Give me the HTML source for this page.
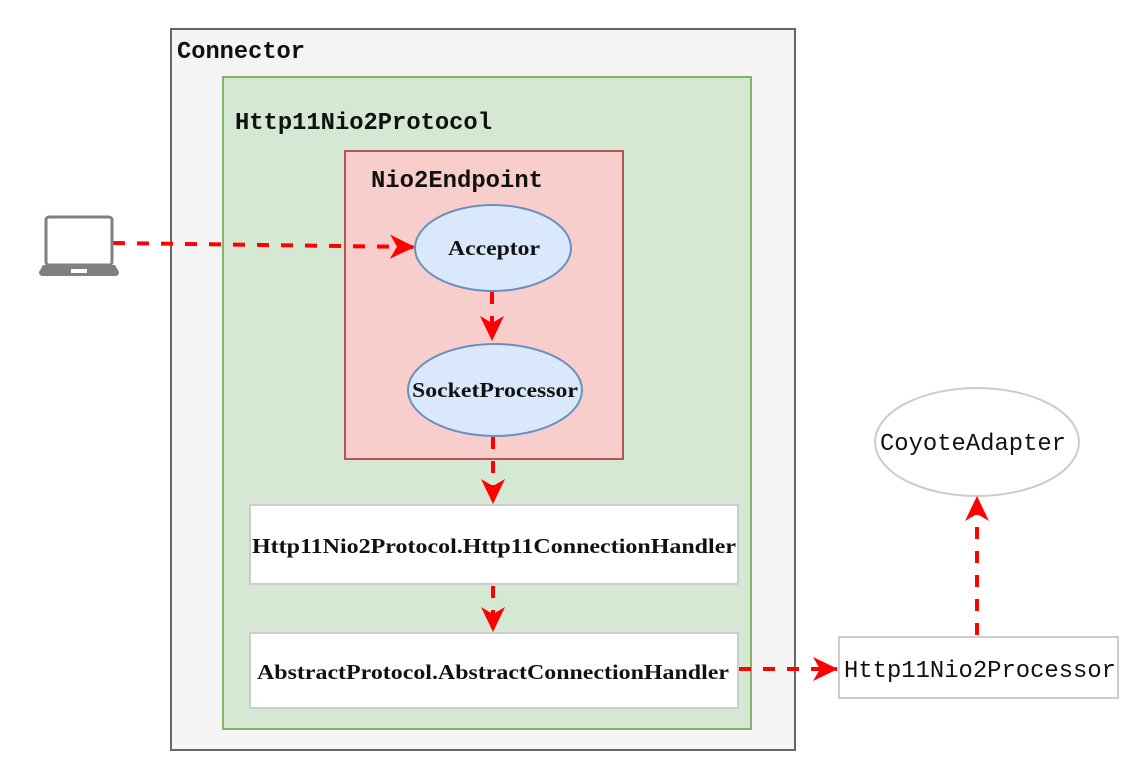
<!DOCTYPE html>
<html><head><meta charset="utf-8"><style>
html,body{margin:0;padding:0;background:#fff;width:1134px;height:774px;overflow:hidden}
.m{font-family:"Liberation Mono",monospace;font-weight:bold;font-size:23.8px;fill:#111}
.mn{font-family:"Liberation Mono",monospace;font-size:23.8px;fill:#111}
.s{font-family:"Liberation Serif",serif;font-weight:bold;font-size:21px;fill:#111}
</style></head><body>
<svg width="1134" height="774" viewBox="0 0 1134 774" xmlns="http://www.w3.org/2000/svg">
<defs>
<marker id="b" markerWidth="26" markerHeight="26" refX="24" refY="13" orient="auto" markerUnits="userSpaceOnUse" viewBox="0 0 26 26"><path d="M0,1 L25,13 L0,25 L7,13 Z" fill="red"/></marker></defs>
<rect x="171" y="29" width="624" height="721" fill="#f4f4f4" stroke="#666" stroke-width="2"/>
<text class="m" x="177" y="58" textLength="128" lengthAdjust="spacingAndGlyphs">Connector</text>
<rect x="223" y="77" width="528" height="652" fill="#d5e8d4" stroke="#82b366" stroke-width="2"/>
<text class="m" x="235" y="129" textLength="257" lengthAdjust="spacingAndGlyphs">Http11Nio2Protocol</text>
<rect x="345" y="151" width="278" height="308" fill="#f8cecc" stroke="#b85450" stroke-width="2"/>
<text class="m" x="371" y="187" textLength="172" lengthAdjust="spacingAndGlyphs">Nio2Endpoint</text>
<ellipse cx="493" cy="248" rx="78" ry="43" fill="#dae8fc" stroke="#6c8ebf" stroke-width="2"/>
<text class="s" x="494" y="255" text-anchor="middle" textLength="92" lengthAdjust="spacingAndGlyphs">Acceptor</text>
<ellipse cx="495" cy="390" rx="87" ry="46" fill="#dae8fc" stroke="#6c8ebf" stroke-width="2"/>
<text class="s" x="495" y="397" text-anchor="middle" textLength="166" lengthAdjust="spacingAndGlyphs">SocketProcessor</text>
<rect x="250" y="505" width="488" height="79" fill="#fff" stroke="#ccc" stroke-width="2"/>
<text class="s" x="494" y="553" text-anchor="middle" textLength="484" lengthAdjust="spacingAndGlyphs">Http11Nio2Protocol.Http11ConnectionHandler</text>
<rect x="250" y="633" width="488" height="75" fill="#fff" stroke="#ccc" stroke-width="2"/>
<text class="s" x="493" y="679" text-anchor="middle" textLength="472" lengthAdjust="spacingAndGlyphs">AbstractProtocol.AbstractConnectionHandler</text>
<ellipse cx="977" cy="442" rx="102" ry="54" fill="#fff" stroke="#ccc" stroke-width="2"/>
<text class="mn" x="880" y="450" textLength="186" lengthAdjust="spacingAndGlyphs">CoyoteAdapter</text>
<rect x="839" y="637" width="279" height="61" fill="#fff" stroke="#ccc" stroke-width="2"/>
<text class="mn" x="844" y="677" textLength="272" lengthAdjust="spacingAndGlyphs">Http11Nio2Processor</text>
<g stroke="red" stroke-width="4" stroke-dasharray="12,12" fill="none">
<path d="M113,243 L414,247" marker-end="url(#b)"/>
<path d="M492,292 L492,340" marker-end="url(#b)"/>
<path d="M493,437 L493,503" marker-end="url(#b)"/>
<path d="M493,586 L493,631" marker-end="url(#b)"/>
<path d="M739,669 L837,669" marker-end="url(#b)"/>
<path d="M977,635 L977,497" marker-end="url(#b)"/>
</g>
<g fill="#808080">
<rect x="46" y="217" width="66" height="48" rx="3" fill="none" stroke="#808080" stroke-width="3"/>
<path d="M43,265 L115,265 L119,272 Q119,276 115,276 L43,276 Q39,276 39,272 Z"/>
<rect x="71" y="269" width="16" height="4" fill="#fff"/>
</g>
</svg>
</body></html>
